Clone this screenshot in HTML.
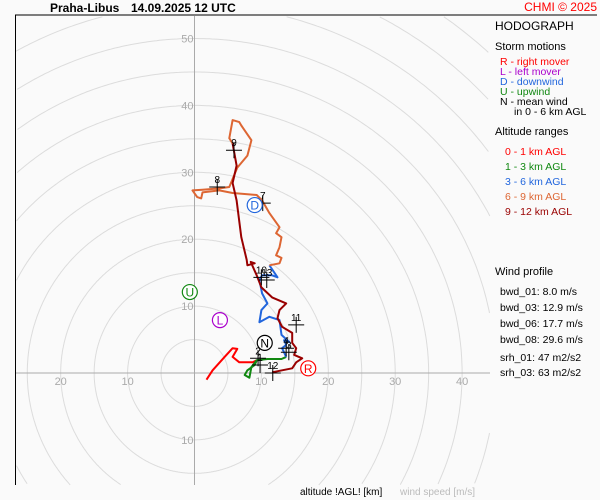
<!DOCTYPE html>
<html><head><meta charset="utf-8"><style>
html,body{margin:0;padding:0;background:#fafafa;width:600px;height:500px;overflow:hidden;}
svg{display:block;font-family:"Liberation Sans",sans-serif;}
</style></head><body>
<svg width="600" height="500" viewBox="0 0 600 500">
<rect width="600" height="500" fill="#fafafa"/>
<text x="50" y="12" font-size="12" font-weight="bold">Praha-Libus</text>
<text x="131" y="12" font-size="12" font-weight="bold">14.09.2025 12 UTC</text>
<text x="597" y="11" font-size="12" fill="#ff0000" text-anchor="end">CHMI © 2025</text>
<g id="grid"></g>
<g id="axes"></g>
<g id="trace"></g>
<g id="marks"></g>
<g id="storms"></g>
<line x1="15" y1="15" x2="597" y2="15" stroke="#000" stroke-width="1"/>
<line x1="15.5" y1="15" x2="15.5" y2="485" stroke="#000" stroke-width="1"/>
<g font-size="10.5">
<text x="495" y="30" font-size="12">HODOGRAPH</text>
<text x="495" y="50" font-size="11">Storm motions</text>
<text x="500" y="65" fill="#ff0000">R - right mover</text>
<text x="500" y="75" fill="#aa00cc">L - left mover</text>
<text x="500" y="85" fill="#2266dd">D - downwind</text>
<text x="500" y="95" fill="#118811">U - upwind</text>
<text x="500" y="105">N - mean wind</text>
<text x="514" y="115">in 0 - 6 km AGL</text>
<text x="495" y="135" font-size="11">Altitude ranges</text>
<text x="505" y="155" fill="#ff0000">0 - 1 km AGL</text>
<text x="505" y="170" fill="#118811">1 - 3 km AGL</text>
<text x="505" y="185" fill="#2266dd">3 - 6 km AGL</text>
<text x="505" y="200" fill="#dd6633">6 - 9 km AGL</text>
<text x="505" y="215" fill="#990000">9 - 12 km AGL</text>
<text x="495" y="275" font-size="11">Wind profile</text>
<text x="500" y="295">bwd_01: 8.0 m/s</text>
<text x="500" y="311">bwd_03: 12.9 m/s</text>
<text x="500" y="327">bwd_06: 17.7 m/s</text>
<text x="500" y="343">bwd_08: 29.6 m/s</text>
<text x="500" y="361">srh_01: 47 m2/s2</text>
<text x="500" y="376">srh_03: 63 m2/s2</text>
</g>
<text x="300" y="495" font-size="10">altitude !AGL! [km]</text>
<text x="400" y="495" font-size="10" fill="#bbbbbb">wind speed [m/s]</text>
</svg>
<script>
const seg01U=[1.8,2.7,4.5,5.7,6.4,5.7,6.7,8.7,9.3];
const seg01V=[-1.0,0.4,2.4,3.7,3.6,2.4,1.6,1.6,1.9];
const seg13U=[9.3,9.0,7.9,7.5,8.2,8.5,9.3,10.9,13.0,13.7];
const seg13V=[1.9,1.2,0.4,-0.3,-0.7,0.9,1.9,2.1,2.1,2.4];
const seg36U=[13.7,13.1,13.7,13.4,14.2,13.0,12.7,11.2,9.7,10.0,10.9,10.1,9.7,10.1,11.6,12.4,11.2];
const seg36V=[2.4,3.7,4.2,4.9,4.6,5.7,7.9,8.4,7.6,9.4,10.4,11.9,13.9,14.6,14.6,14.3,16.1];
const seg69U=[11.2,12.7,13.0,12.2,12.7,13.0,12.2,12.7,11.2,10.1,9.3,5.7,3.7,1.2,1.0,0.4,-0.3,1.2,3.7,5.2,6.4,7.9,8.5,7.0,6.7,5.7,5.2,5.7];
const seg69V=[16.1,16.4,17.2,17.6,18.8,20.3,20.9,21.8,23.9,25.8,26.6,26.9,27.3,27.0,26.1,26.3,27.3,27.4,27.6,27.8,30.7,32.5,34.8,37.0,37.5,37.8,35.1,34.3];
const seg912U=[5.7,6.3,5.7,6.3,7.0,7.8,7.9,9.0,8.4,9.3,10.0,11.6,13.7,12.7,12.4,13.1,14.6,14.6,15.2,14.9,16.1,15.2,14.6,13.1,11.6];
const seg912V=[34.3,31.0,28.4,25.8,20.3,16.9,16.1,16.4,16.6,14.6,12.8,11.3,10.4,9.4,8.2,6.9,6.0,4.5,3.7,2.7,2.2,1.6,0.7,0.4,0.1];
const markLabels=["1","2","3","4","7","8","9","10","11","12","13"];
const markU=[9.8,9.5,14.1,13.7,10.2,3.4,5.9,10.0,15.2,11.7,10.8];
const markV=[1.2,2.2,3.1,3.7,25.4,27.8,33.3,14.3,7.2,0.0,13.9];
const stormLabels=["R","L","N","U","D"];
const stormU=[17.0,3.8,10.5,-0.7,9.0];
const stormV=[0.7,7.9,4.5,12.1,25.1];
const ringSpeeds=[5,10,15,20,25,30,35,40,45,50,55,60,65];
const xTicks=[-20,-10,10,20,30,40];
const yTicks=[50,40,30,20,10,-10];

const OX=194.5, OY=373, S=6.69;
const L0=16,R0=490,T0=16,B0=485;
function sx(u){return OX+u*S;}
function sy(v){return OY-v*S;}
const NS="http://www.w3.org/2000/svg";
function mk(tag,attrs,parent){const e=document.createElementNS(NS,tag);for(const k in attrs)e.setAttribute(k,attrs[k]);parent.appendChild(e);return e;}
function inside(x,y){return x>=L0&&x<=R0&&y>=T0&&y<=B0;}

const grid=document.getElementById('grid');
ringSpeeds.forEach(r=>{
  const rp=r*S; let d=''; let pen=false;
  for(let i=0;i<=720;i++){
    const a=i/720*2*Math.PI; const x=OX+rp*Math.cos(a), y=OY-rp*Math.sin(a);
    if(inside(x,y)){d+=(pen?'L':'M')+x.toFixed(1)+' '+y.toFixed(1)+' ';pen=true;} else pen=false;
  }
  if(!d) return;
  const c=mk('path',{d:d,fill:'none',stroke:'#dcdcdc','stroke-width':1},grid);
  
  
});
const axes=document.getElementById('axes');
let l=mk('line',{x1:L0,y1:OY,x2:R0,y2:OY,stroke:'#aaaaaa','stroke-width':1},axes);


l=mk('line',{x1:OX,y1:T0,x2:OX,y2:B0,stroke:'#aaaaaa','stroke-width':1},axes);


xTicks.forEach(t=>{
  const e=mk('text',{x:sx(t),y:OY+12,'font-size':11,fill:'#aaaaaa','text-anchor':'middle'},axes);
  e.textContent=Math.abs(t);
  
  
});
yTicks.forEach(t=>{
  const e=mk('text',{x:OX-1,y:sy(t)+4,'font-size':11,fill:'#aaaaaa','text-anchor':'end'},axes);
  e.textContent=Math.abs(t);
  
  
});

const trace=document.getElementById('trace');
function seg(U,V,color,name){
  const d=U.map((u,i)=>(i?'L':'M')+sx(u).toFixed(1)+' '+sy(V[i]).toFixed(1)).join(' ');
  const p=mk('path',{d:d,fill:'none',stroke:color,'stroke-width':2,'stroke-linejoin':'round'},trace);
  
  
}
seg(seg01U,seg01V,'#ff0000','segment-0-1km');
seg(seg13U,seg13V,'#118811','segment-1-3km');
seg(seg36U,seg36V,'#2266dd','segment-3-6km');
seg(seg69U,seg69V,'#dd6633','segment-6-9km');
seg(seg912U,seg912V,'#990000','segment-9-12km');

const marks=document.getElementById('marks');
markLabels.forEach((lab,i)=>{
  const x=sx(markU[i]),y=sy(markV[i]);
  const g=mk('g',{},marks);
  
  
  mk('line',{x1:x-8,y1:y,x2:x+8,y2:y,stroke:'#000','stroke-width':1},g);
  mk('line',{x1:x,y1:y-8,x2:x,y2:y+8,stroke:'#000','stroke-width':1},g);
  const t=mk('text',{x:x,y:y-4,'font-size':10,'text-anchor':'middle'},g);
  t.textContent=lab;
});

const storms=document.getElementById('storms');
const stormColors={R:'#ff0000',L:'#aa00cc',N:'#000000',U:'#118811',D:'#2266dd'};
stormLabels.forEach((lab,i)=>{
  const x=sx(stormU[i]),y=sy(stormV[i]);
  const g=mk('g',{},storms);
  
  
  mk('circle',{cx:x,cy:y,r:7.5,fill:'#ffffff',stroke:stormColors[lab],'stroke-width':1.2},g);
  const t=mk('text',{x:x,y:y+4.5,'font-size':12,'text-anchor':'middle',fill:stormColors[lab]},g);
  t.textContent=lab;
});
</script>
</body></html>
